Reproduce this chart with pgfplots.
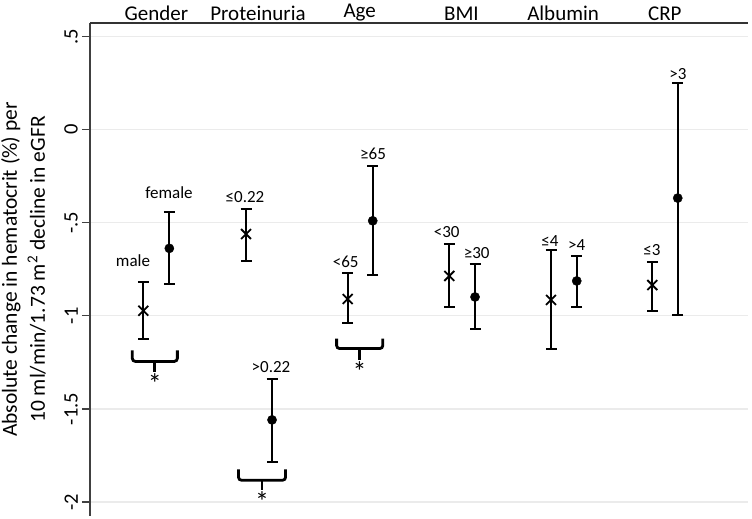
\documentclass[border=0pt]{standalone}
\usepackage{fontspec}
\setmainfont{Carlito}
\usepackage{pgfplots}
\pgfplotsset{compat=1.18}
\pgfplotstableread{
x y ep em
0.872 -0.973 0.156 0.152
1.882 -0.561 0.136 0.143
2.882 -0.910 0.138 0.127
3.881 -0.786 0.170 0.168
4.881 -0.915 0.268 0.263
5.877 -0.835 0.124 0.138
}\lowtab
\pgfplotstableread{
x y ep em
1.128 -0.638 0.194 0.190
2.138 -1.559 0.220 0.227
3.128 -0.490 0.296 0.293
4.134 -0.899 0.175 0.170
5.134 -0.813 0.134 0.141
6.127 -0.368 0.616 0.627
}\hightab
\begin{document}
\begin{tikzpicture}
\begin{axis}[
  name=ax,
  scale only axis,
  width=658pt, height=493pt,
  xmin=0.348, xmax=6.818,
  ymin=-2.075, ymax=0.572,
  axis x line*=top,
  axis y line*=left,
  axis line style={-, line width=1.3pt, draw=black!75},
  xtick={1,2,3,4,5,6},
  xticklabels={Gender,Proteinuria,Age,BMI,Albumin,CRP},
  x tick label style={font=\fontsize{21}{24}\selectfont, anchor=south, inner sep=0pt, yshift=-6pt},
  xtick style={draw=none},
  ytick={-2,-1.5,-1,-0.5,0,0.5},
  yticklabels={-2,-1.5,-1,-.5,0,.5},
  y tick label style={font=\fontsize{20.5}{24}\selectfont, rotate=90, anchor=south, inner sep=4pt},
  ytick style={line width=1.3pt, draw=black!75},
  tick align=outside,
  major tick length=8pt,
  ymajorgrids,
  grid style={line width=1.2pt, draw=black!8},
  ylabel={Absolute change in hematocrit (\%) per\\10 ml/min/1.73 m\textsuperscript{2} decline in eGFR},
  ylabel style={font=\fontsize{21.5}{28}\selectfont, align=center},
  ylabel shift=11pt,
  clip=false,
]
\addplot[only marks, mark=x, mark size=7pt, mark options={line width=1.8pt}, black,
  error bars/.cd, y dir=both, y explicit,
  error bar style={line width=1.8pt},
  error mark options={rotate=90, mark size=5.5pt, line width=1.8pt}]
  table[x=x, y=y, y error plus=ep, y error minus=em] {\lowtab};
\addplot[only marks, mark=*, mark size=4.6pt, black,
  error bars/.cd, y dir=both, y explicit,
  error bar style={line width=1.8pt},
  error mark options={rotate=90, mark size=5.5pt, line width=1.8pt}]
  table[x=x, y=y, y error plus=ep, y error minus=em] {\hightab};
% subgroup labels
\begin{scope}[every node/.style={font=\fontsize{17}{18}\selectfont, inner sep=0pt}]
\node at (axis cs:0.771,-0.704) {male};
\node at (axis cs:1.125,-0.341) {female};
\node at (axis cs:1.872,-0.361) {≤0.22};
\node at (axis cs:2.128,-1.273) {>0.22};
\node at (axis cs:2.862,-0.710) {<65};
\node at (axis cs:3.131,-0.132) {≥65};
\node at (axis cs:3.855,-0.552) {<30};
\node at (axis cs:4.150,-0.665) {≥30};
\node at (axis cs:4.871,-0.597) {≤4};
\node at (axis cs:5.134,-0.620) {>4};
\node at (axis cs:5.874,-0.647) {≤3};
\node at (axis cs:6.130,0.298) {>3};
\end{scope}
% significance braces
\begin{scope}[line width=2.8pt, rounded corners=3pt]
\draw (axis cs:0.764,-1.186) -- (axis cs:0.764,-1.245) -- (axis cs:1.207,-1.245) -- (axis cs:1.207,-1.186);
\draw[rounded corners=0pt] (axis cs:0.985,-1.245) -- (axis cs:0.985,-1.300);
\draw (axis cs:1.808,-1.824) -- (axis cs:1.808,-1.883) -- (axis cs:2.271,-1.883) -- (axis cs:2.271,-1.824);
\draw[rounded corners=0pt] (axis cs:2.039,-1.883) -- (axis cs:2.039,-1.938);
\draw (axis cs:2.773,-1.122) -- (axis cs:2.773,-1.176) -- (axis cs:3.227,-1.176) -- (axis cs:3.227,-1.122);
\draw[rounded corners=0pt] (axis cs:3.0,-1.176) -- (axis cs:3.0,-1.236);
\end{scope}
\begin{scope}[every node/.style={font=\fontsize{28}{30}\selectfont, inner sep=0pt}]
\node at (axis cs:0.985,-1.365) {*};
\node at (axis cs:2.039,-2.0) {*};
\node at (axis cs:3.0,-1.30) {*};
\end{scope}
\end{axis}
\draw[line width=1.4pt, draw=black!80] (ax.north west) -- (ax.north east);
\pgfresetboundingbox
\path[use as bounding box] ([shift={(-90pt,-3pt)}]ax.south west) rectangle ([shift={(4pt,23pt)}]ax.north east);
\end{tikzpicture}
\end{document}
